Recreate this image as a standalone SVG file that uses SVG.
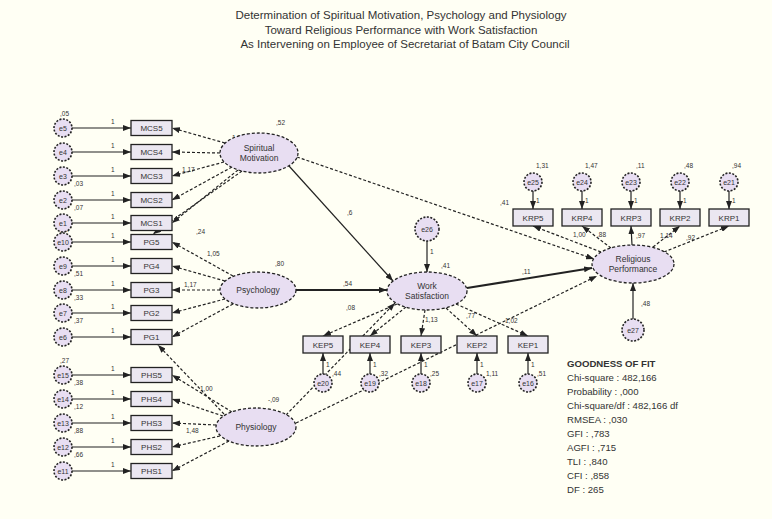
<svg xmlns="http://www.w3.org/2000/svg" width="772" height="519" viewBox="0 0 772 519">
<defs>
<marker id="ah" markerWidth="8" markerHeight="6" refX="8" refY="3" orient="auto" markerUnits="userSpaceOnUse"><path d="M0,0 L8,3 L0,6 z" fill="#222"/></marker>
<style>
text{font-family:"Liberation Sans",Arial,sans-serif;fill:#333}
.t{font-size:11.5px;text-anchor:middle}
.bl{font-size:8px;text-anchor:middle}
.ll{font-size:8.5px;text-anchor:middle}
.el{font-size:7px;text-anchor:middle}
.n{font-size:6.5px}
.g{font-size:9.6px}
.box{fill:#ebe7f1;stroke:#222;stroke-width:1.3}
.lat{fill:#e8def2;stroke:#222;stroke-width:1.3;stroke-dasharray:3 2}
.err{fill:#e8def2;stroke:#222;stroke-width:1.6;stroke-dasharray:2 1.5}
.s{stroke:#222;stroke-width:1.2;fill:none;marker-end:url(#ah)}
.d{stroke:#222;stroke-width:1.2;fill:none;stroke-dasharray:3 2;marker-end:url(#ah)}
.w{stroke:#222;stroke-width:2;fill:none;marker-end:url(#ah)}
</style>
</defs>
<rect x="0" y="0" width="772" height="519" fill="#fffff4"/>
<g id="title">
<text class="t" x="401" y="19">Determination of Spiritual Motivation, Psychology and Physiology</text>
<text class="t" x="401" y="34">Toward Religious Performance with Work Satisfaction</text>
<text class="t" x="405" y="48">As Intervening on Employee of Secretariat of Batam City Council</text>
</g>
<g id="connectors">
<line class="s" x1="72" y1="128" x2="131" y2="128"/>
<line class="s" x1="72" y1="152" x2="131" y2="152"/>
<line class="s" x1="72" y1="176" x2="131" y2="176"/>
<line class="s" x1="72" y1="200" x2="131" y2="200"/>
<line class="s" x1="72" y1="223" x2="131" y2="223"/>
<line class="s" x1="72" y1="242" x2="131" y2="242"/>
<line class="s" x1="72" y1="266" x2="131" y2="266"/>
<line class="s" x1="72" y1="290" x2="131" y2="290"/>
<line class="s" x1="72" y1="313" x2="131" y2="313"/>
<line class="s" x1="72" y1="337" x2="131" y2="337"/>
<line class="s" x1="72" y1="375" x2="131" y2="375"/>
<line class="s" x1="72" y1="399" x2="131" y2="399"/>
<line class="s" x1="72" y1="423" x2="131" y2="423"/>
<line class="s" x1="72" y1="447" x2="131" y2="447"/>
<line class="s" x1="72" y1="471" x2="131" y2="471"/>
<line class="d" x1="225" y1="143" x2="172" y2="128"/>
<line class="d" x1="220" y1="153" x2="172" y2="152"/>
<line class="d" x1="224" y1="162" x2="172" y2="176"/>
<line class="d" x1="232" y1="167" x2="172" y2="200"/>
<line class="d" x1="238" y1="170" x2="172" y2="223"/>
<line class="d" x1="242" y1="171" x2="153" y2="234"/>
<line class="d" x1="233" y1="276" x2="172" y2="242"/>
<line class="d" x1="225" y1="281" x2="172" y2="266"/>
<line class="d" x1="220" y1="290" x2="172" y2="290"/>
<line class="d" x1="225" y1="299" x2="172" y2="313"/>
<line class="d" x1="233" y1="304" x2="172" y2="337"/>
<line class="d" x1="232" y1="412" x2="172" y2="375"/>
<line class="d" x1="223" y1="416" x2="172" y2="399"/>
<line class="d" x1="216" y1="425" x2="172" y2="423"/>
<line class="d" x1="220" y1="436" x2="172" y2="447"/>
<line class="d" x1="229" y1="441" x2="172" y2="471"/>
<line class="d" x1="224" y1="414" x2="158" y2="345"/>
<line class="s" x1="289" y1="166" x2="393" y2="281"/>
<line class="d" x1="297" y1="157" x2="594" y2="259"/>
<line class="w" x1="296" y1="290" x2="387" y2="290"/>
<line class="w" x1="467" y1="288" x2="592" y2="268"/>
<line class="d" x1="286" y1="415" x2="395" y2="303"/>
<line class="d" x1="296" y1="423" x2="597" y2="276"/>
<line class="s" x1="427" y1="241" x2="427" y2="272"/>
<line class="s" x1="633" y1="319" x2="633" y2="283"/>
<line class="d" x1="397" y1="304" x2="323" y2="336"/>
<line class="d" x1="406" y1="307" x2="370" y2="336"/>
<line class="d" x1="425" y1="310" x2="421" y2="336"/>
<line class="d" x1="446" y1="308" x2="477" y2="336"/>
<line class="d" x1="456" y1="304" x2="528" y2="336"/>
<line class="s" x1="323" y1="374" x2="323" y2="353"/>
<line class="s" x1="370" y1="374" x2="370" y2="353"/>
<line class="s" x1="421" y1="374" x2="421" y2="353"/>
<line class="s" x1="477" y1="374" x2="477" y2="353"/>
<line class="s" x1="528" y1="374" x2="528" y2="353"/>
<line class="d" x1="601" y1="252" x2="533" y2="226"/>
<line class="d" x1="611" y1="248" x2="582" y2="226"/>
<line class="s" x1="632" y1="245" x2="631" y2="226"/>
<line class="d" x1="653" y1="247" x2="680" y2="226"/>
<line class="d" x1="664" y1="252" x2="729" y2="226"/>
<line class="s" x1="533" y1="191" x2="533" y2="209"/>
<line class="s" x1="582" y1="191" x2="582" y2="209"/>
<line class="s" x1="631" y1="191" x2="631" y2="209"/>
<line class="s" x1="680" y1="191" x2="680" y2="209"/>
<line class="s" x1="729" y1="191" x2="729" y2="209"/>
</g>
<g id="labels">
<text class="n" x="111" y="124">1</text><text class="n" x="111" y="148">1</text><text class="n" x="111" y="172">1</text><text class="n" x="111" y="196">1</text><text class="n" x="111" y="219">1</text>
<text class="n" x="111" y="238">1</text><text class="n" x="111" y="262">1</text><text class="n" x="111" y="286">1</text><text class="n" x="111" y="309">1</text><text class="n" x="111" y="333">1</text>
<text class="n" x="111" y="371">1</text><text class="n" x="111" y="395">1</text><text class="n" x="111" y="419">1</text><text class="n" x="111" y="443">1</text><text class="n" x="111" y="467">1</text>
<text class="n" x="60" y="116">,05</text><text class="n" x="74" y="186">,03</text><text class="n" x="74" y="210">,07</text>
<text class="n" x="60" y="232">,34</text><text class="n" x="74" y="276">,51</text><text class="n" x="74" y="300">,33</text><text class="n" x="74" y="323">,37</text>
<text class="n" x="60" y="363">,27</text><text class="n" x="74" y="385">,38</text><text class="n" x="74" y="409">,12</text><text class="n" x="74" y="433">,88</text><text class="n" x="74" y="457">,66</text>
<text class="n" x="232" y="140">1,00</text><text class="n" x="276" y="125">,52</text><text class="n" x="182" y="172">1,17</text>
<text class="n" x="196" y="234">,24</text><text class="n" x="207" y="256">1,05</text><text class="n" x="184" y="287">1,17</text><text class="n" x="275" y="266">,80</text>
<text class="n" x="200" y="391">1,00</text><text class="n" x="268" y="402">-,09</text><text class="n" x="186" y="433">1,48</text>
<text class="n" x="347" y="215">,6</text><text class="n" x="343" y="286">,54</text><text class="n" x="346" y="310">,08</text>
<text class="n" x="500" y="205">,41</text><text class="n" x="441" y="268">,41</text><text class="n" x="522" y="274">,11</text><text class="n" x="505" y="323">1,02</text>
<text class="n" x="430" y="254">1</text><text class="n" x="641" y="306">,48</text>
<text class="n" x="425" y="322">1,13</text><text class="n" x="466" y="318">,77</text>
<text class="n" x="326" y="367">1</text><text class="n" x="332" y="376">,44</text><text class="n" x="373" y="367">1</text><text class="n" x="379" y="376">,32</text>
<text class="n" x="424" y="367">1</text><text class="n" x="430" y="376">,25</text><text class="n" x="480" y="367">1</text><text class="n" x="486" y="376">1,11</text>
<text class="n" x="531" y="367">1</text><text class="n" x="537" y="376">,51</text>
<text class="n" x="536" y="168">1,31</text><text class="n" x="585" y="168">1,47</text><text class="n" x="636" y="168">,11</text><text class="n" x="684" y="168">,48</text><text class="n" x="732" y="168">,94</text>
<text class="n" x="536" y="203">1</text><text class="n" x="585" y="203">1</text><text class="n" x="634" y="203">1</text><text class="n" x="683" y="203">1</text><text class="n" x="732" y="203">1</text>
<text class="n" x="573" y="237">1,00</text><text class="n" x="597" y="237">,88</text><text class="n" x="636" y="238">,97</text><text class="n" x="660" y="238">1,14</text><text class="n" x="686" y="240">,92</text>
</g>
<g id="e5"><circle class="err" cx="63" cy="128" r="9"/><text class="el" x="63" y="130.5">e5</text></g>
<g id="e4"><circle class="err" cx="63" cy="152" r="9"/><text class="el" x="63" y="154.5">e4</text></g>
<g id="e3"><circle class="err" cx="63" cy="176" r="9"/><text class="el" x="63" y="178.5">e3</text></g>
<g id="e2"><circle class="err" cx="63" cy="200" r="9"/><text class="el" x="63" y="202.5">e2</text></g>
<g id="e1"><circle class="err" cx="63" cy="223" r="9"/><text class="el" x="63" y="225.5">e1</text></g>
<g id="e10"><circle class="err" cx="63" cy="242" r="9"/><text class="el" x="63" y="244.5">e10</text></g>
<g id="e9"><circle class="err" cx="63" cy="266" r="9"/><text class="el" x="63" y="268.5">e9</text></g>
<g id="e8"><circle class="err" cx="63" cy="290" r="9"/><text class="el" x="63" y="292.5">e8</text></g>
<g id="e7"><circle class="err" cx="63" cy="313" r="9"/><text class="el" x="63" y="315.5">e7</text></g>
<g id="e6"><circle class="err" cx="63" cy="337" r="9"/><text class="el" x="63" y="339.5">e6</text></g>
<g id="e15"><circle class="err" cx="63" cy="375" r="9"/><text class="el" x="63" y="377.5">e15</text></g>
<g id="e14"><circle class="err" cx="63" cy="399" r="9"/><text class="el" x="63" y="401.5">e14</text></g>
<g id="e13"><circle class="err" cx="63" cy="423" r="9"/><text class="el" x="63" y="425.5">e13</text></g>
<g id="e12"><circle class="err" cx="63" cy="447" r="9"/><text class="el" x="63" y="449.5">e12</text></g>
<g id="e11"><circle class="err" cx="63" cy="471" r="9"/><text class="el" x="63" y="473.5">e11</text></g>
<g id="MCS5"><rect class="box" x="131" y="120.5" width="41" height="15"/><text class="bl" x="151.5" y="131">MCS5</text></g>
<g id="MCS4"><rect class="box" x="131" y="144.5" width="41" height="15"/><text class="bl" x="151.5" y="155">MCS4</text></g>
<g id="MCS3"><rect class="box" x="131" y="168.5" width="41" height="15"/><text class="bl" x="151.5" y="179">MCS3</text></g>
<g id="MCS2"><rect class="box" x="131" y="192.5" width="41" height="15"/><text class="bl" x="151.5" y="203">MCS2</text></g>
<g id="MCS1"><rect class="box" x="131" y="215.5" width="41" height="15"/><text class="bl" x="151.5" y="226">MCS1</text></g>
<g id="PG5"><rect class="box" x="131" y="234.5" width="41" height="15"/><text class="bl" x="151.5" y="245">PG5</text></g>
<g id="PG4"><rect class="box" x="131" y="258.5" width="41" height="15"/><text class="bl" x="151.5" y="269">PG4</text></g>
<g id="PG3"><rect class="box" x="131" y="282.5" width="41" height="15"/><text class="bl" x="151.5" y="293">PG3</text></g>
<g id="PG2"><rect class="box" x="131" y="305.5" width="41" height="15"/><text class="bl" x="151.5" y="316">PG2</text></g>
<g id="PG1"><rect class="box" x="131" y="329.5" width="41" height="15"/><text class="bl" x="151.5" y="340">PG1</text></g>
<g id="PHS5"><rect class="box" x="131" y="367.5" width="41" height="15"/><text class="bl" x="151.5" y="378">PHS5</text></g>
<g id="PHS4"><rect class="box" x="131" y="391.5" width="41" height="15"/><text class="bl" x="151.5" y="402">PHS4</text></g>
<g id="PHS3"><rect class="box" x="131" y="415.5" width="41" height="15"/><text class="bl" x="151.5" y="426">PHS3</text></g>
<g id="PHS2"><rect class="box" x="131" y="439.5" width="41" height="15"/><text class="bl" x="151.5" y="450">PHS2</text></g>
<g id="PHS1"><rect class="box" x="131" y="463.5" width="41" height="15"/><text class="bl" x="151.5" y="474">PHS1</text></g>
<g id="SpiritualMotivation"><ellipse class="lat" cx="259" cy="153" rx="39" ry="20"/><text class="ll" x="259" y="151">Spiritual</text><text class="ll" x="259" y="161">Motivation</text></g>
<g id="Psychology"><ellipse class="lat" cx="258" cy="290" rx="38" ry="18"/><text class="ll" x="258" y="293">Psychology</text></g>
<g id="Physiology"><ellipse class="lat" cx="256" cy="427" rx="40" ry="19"/><text class="ll" x="256" y="430">Physiology</text></g>
<g id="WorkSatisfaction"><ellipse class="lat" cx="427" cy="291" rx="40" ry="19"/><text class="ll" x="427" y="289">Work</text><text class="ll" x="427" y="299">Satisfaction</text></g>
<g id="ReligiousPerformance"><ellipse class="lat" cx="633" cy="264" rx="41" ry="19"/><text class="ll" x="633" y="262">Religious</text><text class="ll" x="633" y="272">Performance</text></g>
<g id="e26"><circle class="err" cx="427" cy="229" r="12"/><text class="el" x="427" y="231.5">e26</text></g>
<g id="e27"><circle class="err" cx="633" cy="330" r="11"/><text class="el" x="633" y="332.5">e27</text></g>
<g id="KEP5"><rect class="box" x="303" y="336" width="40" height="17"/><text class="bl" x="323" y="347.5">KEP5</text></g>
<g id="KEP4"><rect class="box" x="350" y="336" width="40" height="17"/><text class="bl" x="370" y="347.5">KEP4</text></g>
<g id="KEP3"><rect class="box" x="401" y="336" width="40" height="17"/><text class="bl" x="421" y="347.5">KEP3</text></g>
<g id="KEP2"><rect class="box" x="457" y="336" width="40" height="17"/><text class="bl" x="477" y="347.5">KEP2</text></g>
<g id="KEP1"><rect class="box" x="508" y="336" width="40" height="17"/><text class="bl" x="528" y="347.5">KEP1</text></g>
<g id="e20"><circle class="err" cx="323" cy="383" r="9"/><text class="el" x="323" y="385.5">e20</text></g>
<g id="e19"><circle class="err" cx="370" cy="383" r="9"/><text class="el" x="370" y="385.5">e19</text></g>
<g id="e18"><circle class="err" cx="421" cy="383" r="9"/><text class="el" x="421" y="385.5">e18</text></g>
<g id="e17"><circle class="err" cx="477" cy="383" r="9"/><text class="el" x="477" y="385.5">e17</text></g>
<g id="e16"><circle class="err" cx="528" cy="383" r="9"/><text class="el" x="528" y="385.5">e16</text></g>
<g id="KRP5"><rect class="box" x="513" y="209" width="40" height="17"/><text class="bl" x="533" y="220.5">KRP5</text></g>
<g id="KRP4"><rect class="box" x="562" y="209" width="40" height="17"/><text class="bl" x="582" y="220.5">KRP4</text></g>
<g id="KRP3"><rect class="box" x="611" y="209" width="40" height="17"/><text class="bl" x="631" y="220.5">KRP3</text></g>
<g id="KRP2"><rect class="box" x="660" y="209" width="40" height="17"/><text class="bl" x="680" y="220.5">KRP2</text></g>
<g id="KRP1"><rect class="box" x="709" y="209" width="40" height="17"/><text class="bl" x="729" y="220.5">KRP1</text></g>
<g id="e25"><circle class="err" cx="533" cy="182" r="9"/><text class="el" x="533" y="184.5">e25</text></g>
<g id="e24"><circle class="err" cx="582" cy="182" r="9"/><text class="el" x="582" y="184.5">e24</text></g>
<g id="e23"><circle class="err" cx="631" cy="182" r="9"/><text class="el" x="631" y="184.5">e23</text></g>
<g id="e22"><circle class="err" cx="680" cy="182" r="9"/><text class="el" x="680" y="184.5">e22</text></g>
<g id="e21"><circle class="err" cx="729" cy="182" r="9"/><text class="el" x="729" y="184.5">e21</text></g>
<g id="fit">
<text class="g" x="567" y="367" font-weight="bold">GOODNESS OF FIT</text>
<text class="g" x="567" y="381">Chi-square : 482,166</text>
<text class="g" x="567" y="395">Probability : ,000</text>
<text class="g" x="567" y="409">Chi-square/df : 482,166 df</text>
<text class="g" x="567" y="423">RMSEA : ,030</text>
<text class="g" x="567" y="437">GFI : ,783</text>
<text class="g" x="567" y="451">AGFI : ,715</text>
<text class="g" x="567" y="465">TLI : ,840</text>
<text class="g" x="567" y="479">CFI : ,858</text>
<text class="g" x="567" y="493">DF : 265</text>
</g>
</svg>
